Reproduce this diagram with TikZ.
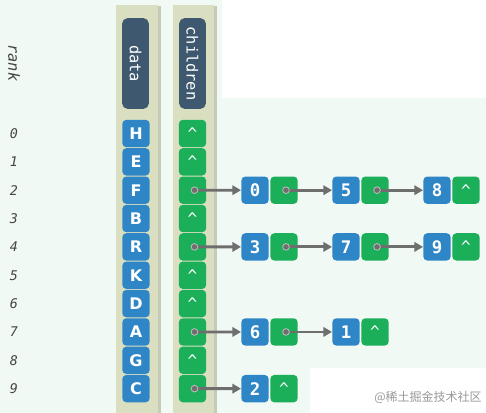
\documentclass[tikz,border=0pt]{standalone}
\usepackage{fontspec}
\usetikzlibrary{arrows.meta}
\setmainfont{DejaVu Sans}
\newfontfamily\monofont{DejaVu Sans Mono}
\newfontfamily\cjkfont{Noto Sans CJK SC}
\definecolor{bgmint}{HTML}{F1F9F5}
\definecolor{striptan}{HTML}{D9DFC0}
\definecolor{stripshadow}{HTML}{C5CBB8}
\definecolor{hdrblue}{HTML}{3E5870}
\definecolor{boxblue}{HTML}{2F86C6}
\definecolor{boxgreen}{HTML}{1CAF5A}
\definecolor{arrgray}{HTML}{6E6E6E}
\definecolor{ranktext}{HTML}{444444}
\begin{document}
\begin{tikzpicture}[x=0.75pt,y=-0.75pt,
  dbox/.style={fill=boxblue,rounded corners=3pt,minimum width=20.5pt,minimum height=20.5pt,inner sep=0pt,text=white,font=\bfseries\fontsize{12}{12}\selectfont},
  nbox/.style={fill=boxblue,rounded corners=3pt,minimum width=20.5pt,minimum height=20.5pt,inner sep=0pt,text=white,font=\monofont\bfseries\fontsize{13}{13}\selectfont},
  cbox/.style={fill=boxgreen,rounded corners=3pt,minimum width=20.5pt,minimum height=20.5pt,inner sep=0pt,text=white,font=\monofont\fontsize{12}{12}\selectfont},
  hdr/.style={fill=hdrblue,rounded corners=4pt,minimum width=68pt,minimum height=20pt,inner sep=0pt,text=white,font=\monofont\fontsize{11.5}{11.5}\selectfont,rotate=-90},
  rk/.style={text=ranktext,font=\monofont\itshape\fontsize{10}{10}\selectfont},
  dotmark/.style={circle,fill=arrgray,draw=white!55!arrgray,line width=0.6pt,minimum size=5pt,inner sep=0pt},
  arr/.style={draw=arrgray,line width=2.1pt,-{Triangle[length=6.5pt,width=7pt]}},
]
\useasboundingbox (0,0) rectangle (486,413);
\fill[bgmint] (0,0) rectangle (486,413);
\fill[white] (222,0) rectangle (486,98);
\fill[white] (310,368) rectangle (486,413);
% strips
\fill[stripshadow] (118,6) rectangle (161,413);
\fill[striptan] (116,5) rectangle (158,413);
\fill[stripshadow] (175,6) rectangle (217,413);
\fill[striptan] (173,5) rectangle (214,413);
% headers
\node[hdr] (hdata) at (135.5,63.5) {data};
\node[hdr] (hchildren) at (192.5,63.5) {children};
\node[rk,rotate=-90,font=\monofont\itshape\fontsize{11.5}{11.5}\selectfont] (rank) at (14,63) {rank};
% rows
\foreach \i/\L/\C in {0/H/1,1/E/1,2/F/0,3/B/1,4/R/0,5/K/1,6/D/1,7/A/0,8/G/1,9/C/0}{
  \pgfmathsetmacro{\yy}{133.5+28.35*\i}
  \node[rk] (r\i) at (14,\yy) {\i};
  \node[dbox] (d\i) at (136,\yy) {\L};
  \ifnum\C=1
    \node[cbox] (c\i) at (192.5,\yy) {\textasciicircum};
  \else
    \node[cbox] (c\i) at (192.5,\yy) {};
  \fi
}
% chain row 2
\node[nbox] (a0) at (255,190.2) {0};
\node[cbox] (ag0) at (284,190.2) {};
\node[nbox] (a1) at (346,190.2) {5};
\node[cbox] (ag1) at (375,190.2) {};
\node[nbox] (a2) at (437,190.2) {8};
\node[cbox] (ag2) at (466,190.2) {\textasciicircum};
% chain row 4
\node[nbox] (b0) at (255,246.9) {3};
\node[cbox] (bg0) at (284,246.9) {};
\node[nbox] (b1) at (346,246.9) {7};
\node[cbox] (bg1) at (375,246.9) {};
\node[nbox] (b2) at (437,246.9) {9};
\node[cbox] (bg2) at (466,246.9) {\textasciicircum};
% chain row 7
\node[nbox] (e0) at (255,331.95) {6};
\node[cbox] (eg0) at (284,331.95) {};
\node[nbox] (e1) at (346,331.95) {1};
\node[cbox] (eg1) at (375,331.95) {\textasciicircum};
% chain row 9
\node[nbox] (f0) at (255,388.65) {2};
\node[cbox] (fg0) at (284,388.65) {\textasciicircum};
% arrows
\foreach \s/\t in {c2/a0,ag0/a1,ag1/a2,c4/b0,bg0/b1,bg1/b2,c7/e0,eg0/e1,c9/f0}{
  \draw[arr] ([xshift=1.5pt]\s.center) -- (\t.west);
  \node[dotmark] at ([xshift=1.5pt]\s.center) {};
}
\node[text=black!40,font=\cjkfont\fontsize{9}{9}\selectfont] (wm) at (428,397) {@稀土掘金技术社区};
\end{tikzpicture}
\end{document}
